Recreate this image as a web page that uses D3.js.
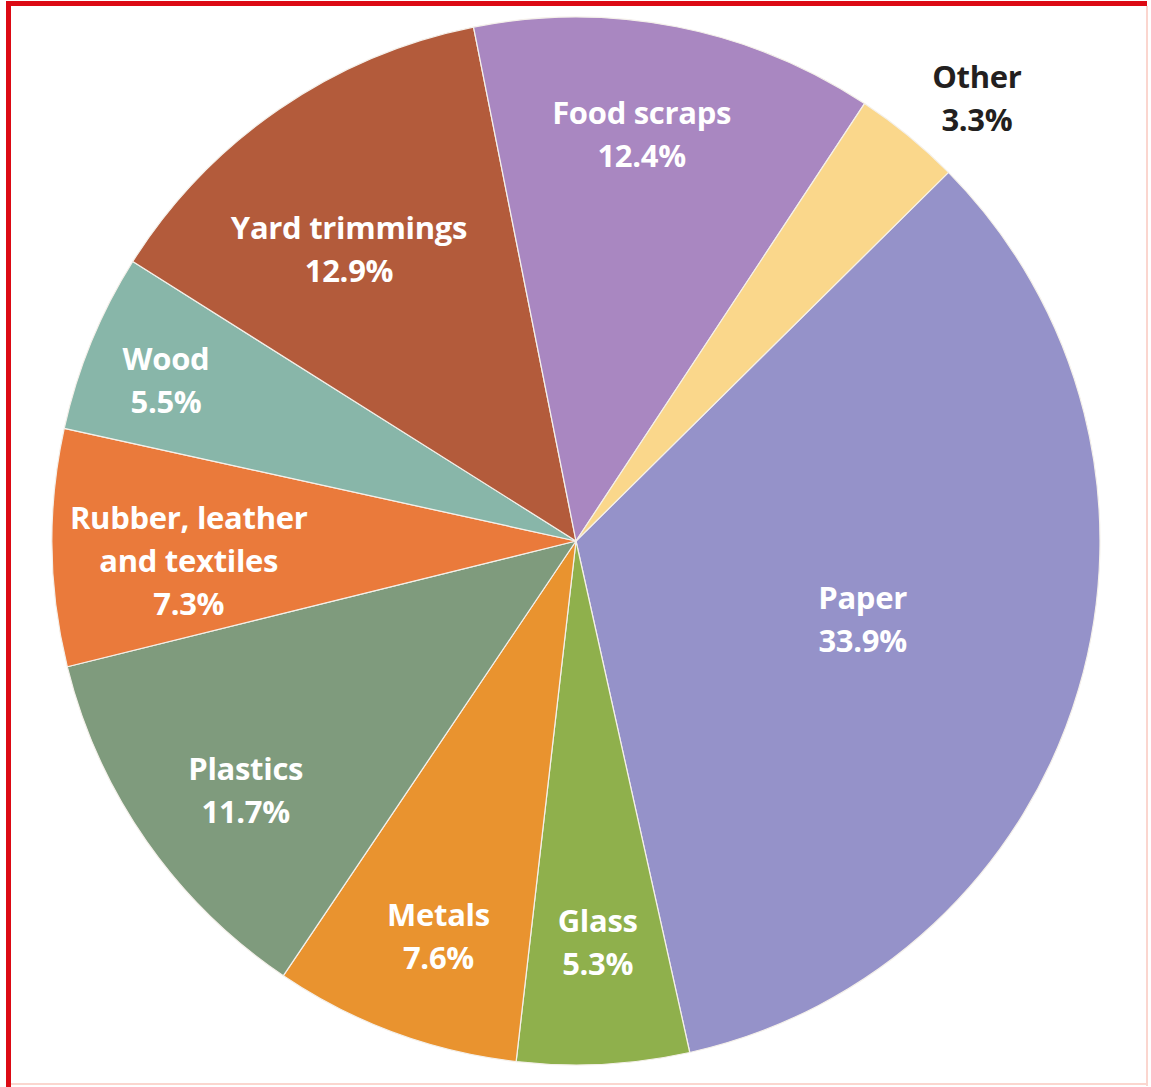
<!DOCTYPE html>
<html>
<head>
<meta charset="utf-8">
<script src="https://cdn.jsdelivr.net/npm/d3@7"></script>
<style>
  body { margin: 0; background: #fff; }
  svg { display: block; }
</style>
</head>
<body>
<svg id="chart" width="1151" height="1087"></svg>
<script>
// data (percent of total)
var categories = ["Paper", "Glass", "Metals", "Plastics", "Rubber, leather and textiles",
  "Wood", "Yard trimmings", "Food scraps", "Other"];
var labelLines = [["Paper"], ["Glass"], ["Metals"], ["Plastics"], ["Rubber, leather", "and textiles"],
  ["Wood"], ["Yard trimmings"], ["Food scraps"], ["Other"]];
var values = [33.9, 5.3, 7.6, 11.7, 7.3, 5.5, 12.9, 12.4, 3.3];

var colors = ["#9592c9", "#8fb04c", "#e9932f", "#7f9b7d", "#ea7a3b", "#88b6a9", "#b35b3b", "#a987c1", "#fad78b"];
// label placement: radius as fraction of pie radius, angle nudge in degrees
var labelRadius = [0.567, 0.767, 0.80, 0.79, 0.74, 0.84, 0.705, 0.786, 1.14];
var labelNudge = [-1.1, -0.1, -1.1, -2.1, -2.2, -1.0, -3.4, -1.9, 2.8];

var svg = d3.select("#chart"),
  width = +svg.attr("width"),
  height = +svg.attr("height");

// frame
svg.append("rect").attr("x", 6).attr("y", 1).attr("width", 1141).attr("height", 5).attr("fill", "#dc0a14");
svg.append("rect").attr("x", 6).attr("y", 1).attr("width", 5).attr("height", 1086).attr("fill", "#dc0a14");
svg.append("rect").attr("x", 1146).attr("y", 6).attr("width", 2).attr("height", 1080).attr("fill", "#fbd6cf");
svg.append("rect").attr("x", 11).attr("y", 1083).attr("width", 1137).attr("height", 2).attr("fill", "#fbd6cf");

var cx = 576, cy = 541, radius = 524;
var g = svg.append("g").attr("transform", "translate(" + cx + "," + cy + ")");

var start = 45.3 * Math.PI / 180;
var pie = d3.pie().sort(null).startAngle(start).endAngle(start + 2 * Math.PI);
var arc = d3.arc().innerRadius(0).outerRadius(radius);

var arcs = g.selectAll(".arc")
  .data(pie(values))
  .enter()
  .append("g")
  .attr("class", "arc");

arcs.append("path")
  .attr("fill", function(d, i) { return colors[i]; })
  .attr("stroke", "#f4f0ea")
  .attr("stroke-width", 1.2)
  .attr("stroke-linejoin", "round")
  .attr("d", arc);

// labels
var lineH = 43;
arcs.each(function(d, i) {
  var a = (d.startAngle + d.endAngle) / 2 + labelNudge[i] * Math.PI / 180;
  var r = radius * labelRadius[i];
  var x = Math.sin(a) * r, y = -Math.cos(a) * r;
  var lines = labelLines[i].concat([d3.format(".1f")(values[i]) + "%"]);
  var t = d3.select(this).append("text")
    .attr("text-anchor", "middle")
    .attr("font-family", "'Open Sans', sans-serif")
    .attr("font-weight", 700)
    .attr("font-size", 31)
    .attr("letter-spacing", -0.3)
    .attr("fill", categories[i] == "Other" ? "#231f20" : "#fff");
  lines.forEach(function(s, j) {
    t.append("tspan")
      .attr("x", x)
      .attr("y", y + (j - (lines.length - 1) / 2) * lineH)
      .attr("dy", "0.35em")
      .text(s);
  });
});
</script>
</body>
</html>
